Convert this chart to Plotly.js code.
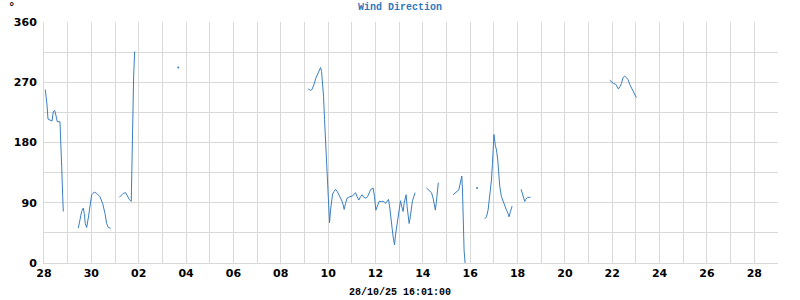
<!DOCTYPE html>
<html>
<head>
<meta charset="utf-8">
<script src="https://cdn.plot.ly/plotly-3.0.1.min.js"></script>
<style>html,body{margin:0;padding:0;background:#fff;}#chart{width:800px;height:300px;}</style>
</head>
<body>
<div id="chart"></div>
<script>
// x = days after the first axis tick (28/10); null direction = gap in readings
const dayOffset = [
  0.055,0.084,0.127,0.169,0.283,0.338,0.393,0.452,0.507,0.561,0.675,0.705,0.747,0.790,0.815,
  1.0,
  1.448,1.520,1.591,1.659,1.701,1.743,1.802,1.870,1.941,2.014,2.123,2.225,2.364,2.478,2.575,2.647,2.714,2.815,
  3.0,
  3.178,3.280,3.347,3.449,3.517,3.601,3.685,3.702,3.744,3.786,3.829,
  5.0,
  11.157,11.258,11.313,11.397,11.481,11.579,11.680,11.722,11.765,11.807,11.849,11.891,11.934,11.975,12.018,12.060,12.102,12.145,12.187,12.254,12.314,12.381,12.465,12.567,12.634,12.677,12.735,12.803,12.917,13.031,13.098,13.158,13.225,13.297,13.369,13.437,13.508,13.592,13.664,13.732,13.804,13.901,13.959,14.015,14.070,14.154,14.255,14.352,14.424,14.492,14.551,14.605,14.661,14.702,14.745,14.804,14.846,14.889,14.931,14.973,15.015,15.058,15.112,15.167,15.209,15.251,15.294,15.336,15.378,15.421,15.462,15.505,15.563,15.619,15.674,
  15.9,
  16.155,16.222,16.295,16.366,16.433,16.476,16.527,16.568,16.611,16.653,
  17.0,
  17.278,17.362,17.446,17.519,17.560,17.603,17.645,17.674,17.700,17.742,17.785,
  18.2,
  18.616,18.687,18.755,18.797,18.857,18.899,18.941,18.975,19.004,19.059,19.110,19.164,19.207,19.249,19.321,19.389,19.460,19.531,19.599,19.642,19.701,19.769,
  20.0,
  20.149,20.207,20.263,20.304,20.347,20.418,20.545,
  22.0,
  23.892,23.977,24.061,24.145,24.201,24.259,24.315,24.386,24.454,24.525,24.598,24.665,24.736,24.809,24.876,24.948,25.019
];
const direction = [
  259,251,236,215,213,212,226,228,220,211,211,189,144,99,77,
  null,
  52,64,77,82,74,59,53,67,84,102,106,104,99,89,74,59,53,52,
  null,
  98,102,104,105,100,95,92,129,204,278,316,
  null,
  260,258,259,266,276,284,292,286,271,249,214,179,146,112,79,60,79,92,103,107,110,107,102,94,87,80,89,97,99,100,103,105,99,94,99,102,98,97,99,104,110,112,99,79,84,92,92,92,89,92,95,82,69,52,39,27,42,52,64,77,88,93,84,77,89,97,102,84,72,59,67,82,93,99,105,
  null,
  112,110,108,105,97,87,79,90,102,120,
  null,
  102,105,107,109,117,124,130,109,64,19,0,
  null,
  66,69,79,92,107,124,149,175,192,176,169,154,136,114,99,92,87,79,74,69,77,85,
  null,
  110,102,95,92,95,98,98,
  null,
  273,270,268,267,263,260,263,268,277,279,277,274,267,262,257,252,247
];
// single isolated readings (no neighbours to join)
const singleDay = [5.669, 18.291];
const singleDir = [292, 112];

const tickDays = [];
for (let i = 0; i <= 31; i++) tickDays.push(i);
const dayLabels = ['28','','30','','02','','04','','06','','08','','10','','12','','14','','16','','18','','20','','22','','24','','26','','28',''];
const dirTicks = [0,45,90,135,180,225,270,315,360];
const dirLabels = ['0','','90','','180','','270','','360'];

const lineColor = '#3a7fbf';
const traces = [
  {x: dayOffset, y: direction, type: 'scatter', mode: 'lines', connectgaps: false,
   line: {color: lineColor, width: 1}, hoverinfo: 'skip'},
  {x: singleDay, y: singleDir, type: 'scatter', mode: 'markers',
   marker: {color: lineColor, size: 2}, hoverinfo: 'skip'}
];
const tickFont = {family: 'DejaVu Sans, Verdana, sans-serif', size: 11, color: '#000', weight: 'bold'};
const layout = {
  width: 800, height: 300,
  margin: {l: 44, r: 22, t: 22, b: 37},
  paper_bgcolor: '#fff', plot_bgcolor: '#fff',
  showlegend: false,
  title: {text: 'Wind Direction', x: 0.5, xref: 'container', xanchor: 'center',
          y: 1 - 6/300, yref: 'container', yanchor: 'middle',
          font: {family: 'Liberation Mono, Courier New, monospace', size: 10, color: '#2f78bd', weight: 'bold'}},
  xaxis: {range: [0, 31], tickmode: 'array', tickvals: tickDays, ticktext: dayLabels,
          showgrid: true, gridcolor: '#d9d9d9', gridwidth: 1, zeroline: false,
          showline: true, linecolor: '#d9d9d9', ticks: '', tickfont: tickFont, fixedrange: true},
  yaxis: {range: [0, 360], tickmode: 'array', tickvals: dirTicks, ticktext: dirLabels,
          showgrid: true, gridcolor: '#d9d9d9', gridwidth: 1, zeroline: false,
          showline: true, linecolor: '#d9d9d9', ticks: '', ticklabelstandoff: 4, tickfont: tickFont, fixedrange: true},
  annotations: [
    {text: '28/10/25 16:01:00', xref: 'paper', yref: 'paper', x: (400-44)/734, y: -(292-263)/241,
     xanchor: 'center', yanchor: 'middle', showarrow: false,
     font: {family: 'Liberation Mono, Courier New, monospace', size: 10, color: '#000', weight: 'bold'}},
    {text: '°', xref: 'paper', yref: 'paper', x: (12-44)/734, y: 1 + (22-6)/241,
     xanchor: 'center', yanchor: 'middle', showarrow: false,
     font: {family: 'DejaVu Sans, sans-serif', size: 11, color: '#000', weight: 'bold'}}
  ]
};
Plotly.newPlot('chart', traces, layout, {displayModeBar: false, staticPlot: true});
</script>
</body>
</html>
